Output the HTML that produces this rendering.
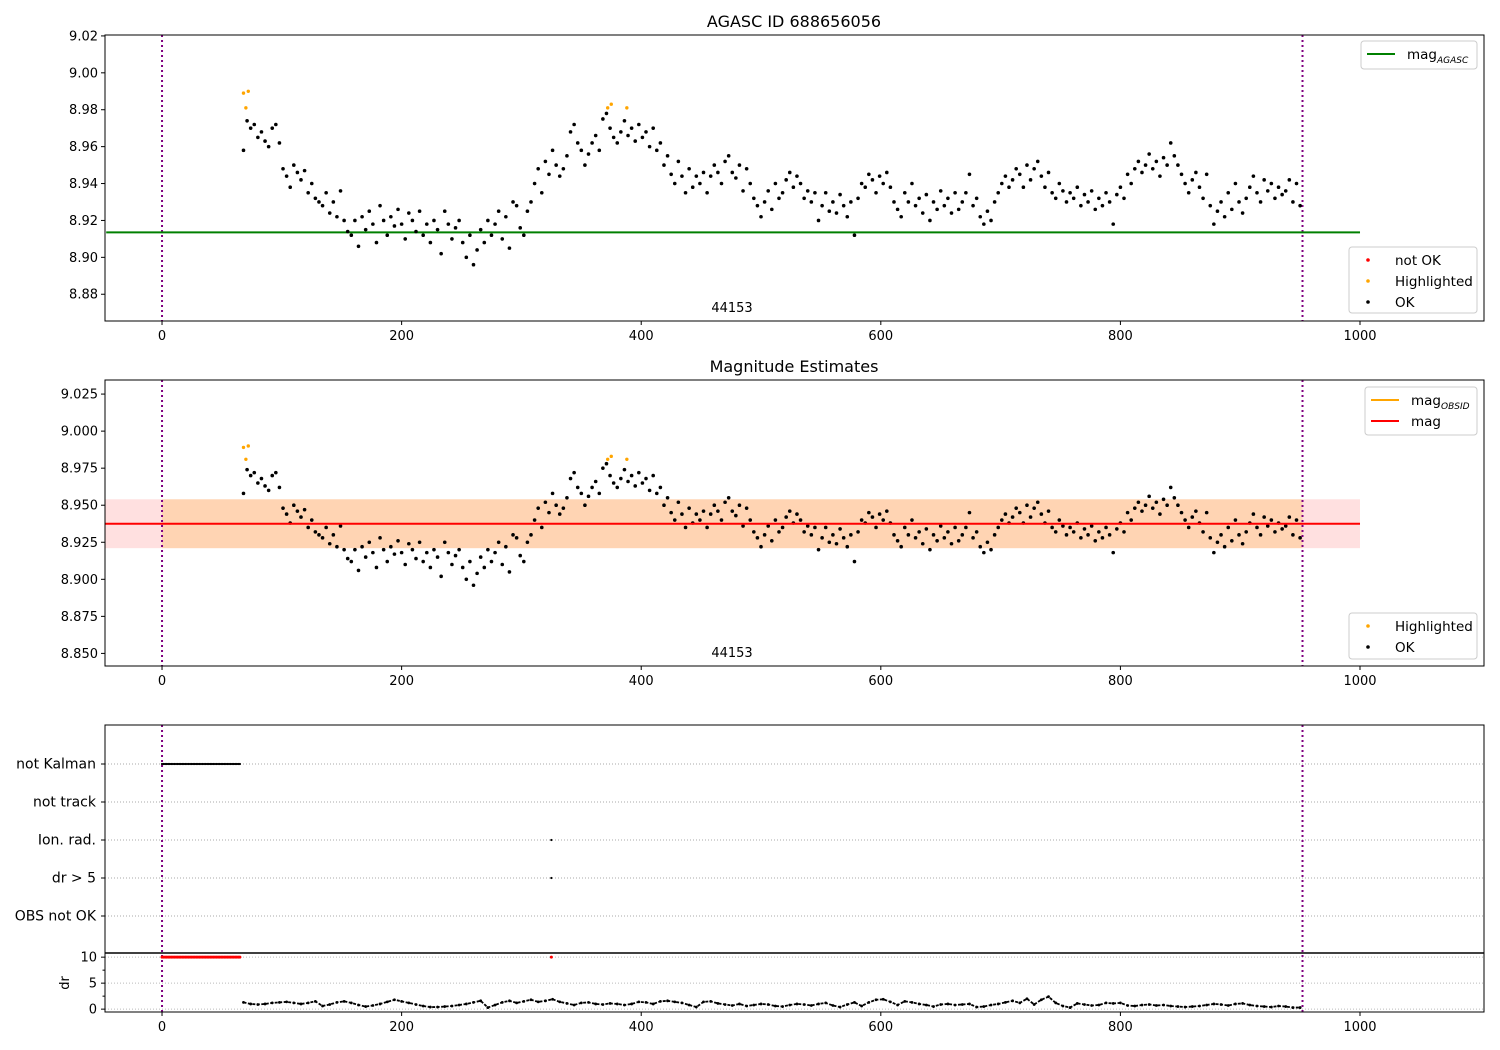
<!DOCTYPE html>
<html><head><meta charset="utf-8">
<style>
body{margin:0;background:#fff;}
svg{display:block;font-family:"DejaVu Sans","Liberation Sans",sans-serif;}
</style></head>
<body>
<svg id="chart" width="1500" height="1050" viewBox="0 0 1500 1050"></svg>
<script>
// ---- data ----
const magStart = 68, magStep = 3;
const magValues = [
8.958,8.974,8.970,8.972,8.965,8.968,8.963,8.960,8.970,8.972,
8.962,8.948,8.944,8.938,8.950,8.946,8.942,8.947,8.935,8.940,
8.932,8.930,8.928,8.935,8.924,8.930,8.922,8.936,8.920,8.914,
8.912,8.920,8.906,8.922,8.915,8.925,8.918,8.908,8.928,8.920,
8.912,8.922,8.917,8.926,8.918,8.910,8.924,8.920,8.914,8.925,
8.912,8.918,8.908,8.920,8.915,8.902,8.925,8.918,8.910,8.916,
8.920,8.908,8.900,8.912,8.896,8.904,8.915,8.908,8.920,8.912,
8.918,8.925,8.910,8.922,8.905,8.930,8.928,8.916,8.912,8.925,
8.930,8.940,8.948,8.935,8.952,8.945,8.958,8.950,8.944,8.948,
8.955,8.968,8.972,8.962,8.958,8.950,8.956,8.962,8.966,8.958,
8.975,8.978,8.970,8.965,8.962,8.968,8.974,8.966,8.970,8.963,
8.972,8.965,8.968,8.960,8.970,8.958,8.962,8.950,8.955,8.945,
8.940,8.952,8.944,8.935,8.948,8.938,8.944,8.940,8.946,8.935,
8.944,8.950,8.946,8.940,8.952,8.955,8.946,8.943,8.950,8.936,
8.948,8.940,8.932,8.928,8.922,8.930,8.936,8.926,8.940,8.932,
8.935,8.942,8.946,8.938,8.944,8.940,8.932,8.936,8.930,8.935,
8.920,8.928,8.935,8.925,8.930,8.924,8.934,8.928,8.922,8.930,
8.912,8.932,8.940,8.938,8.945,8.942,8.935,8.944,8.940,8.946,
8.938,8.930,8.926,8.922,8.935,8.930,8.940,8.928,8.932,8.924,
8.934,8.920,8.930,8.926,8.936,8.928,8.932,8.924,8.935,8.926,
8.930,8.935,8.945,8.928,8.932,8.922,8.918,8.925,8.920,8.930,
8.935,8.940,8.944,8.938,8.942,8.948,8.945,8.938,8.950,8.942,
8.948,8.952,8.944,8.938,8.946,8.935,8.932,8.940,8.936,8.930,
8.935,8.932,8.938,8.928,8.934,8.930,8.936,8.926,8.932,8.928,
8.935,8.930,8.918,8.934,8.938,8.932,8.945,8.940,8.948,8.952,
8.946,8.950,8.956,8.948,8.952,8.944,8.954,8.950,8.962,8.955,
8.950,8.945,8.940,8.935,8.942,8.946,8.938,8.932,8.945,8.928,
8.918,8.925,8.930,8.922,8.935,8.926,8.940,8.930,8.924,8.932,
8.938,8.944,8.935,8.930,8.942,8.936,8.940,8.932,8.938,8.934,
8.936,8.942,8.930,8.940,8.928];
const hiTimes = [68, 70, 72, 372, 375, 388];
const hiValues = [8.989, 8.981, 8.990, 8.981, 8.983, 8.981];
const magAgasc = 8.9135;
const magMean = 8.9375;
const magStd = 0.0165;
const obsStart = 0, obsEnd = 952;
const drStart = 68, drStep = 6;
const drValues = [
1.3,1.0,0.9,1.0,1.2,1.3,1.4,1.2,1.0,1.2,1.5,
0.6,0.9,1.3,1.5,1.2,0.8,0.5,0.7,1.0,1.4,1.8,1.5,
1.2,0.9,0.6,0.4,0.4,0.5,0.6,0.8,1.0,1.3,1.6,
0.3,0.8,1.3,1.6,1.2,1.5,1.8,1.4,1.6,1.9,1.4,
1.1,0.8,1.2,1.3,1.0,0.9,1.1,1.0,0.8,1.0,1.4,1.3,1.0,
1.5,1.6,1.4,1.2,0.8,0.4,1.4,1.5,1.1,0.9,0.7,1.0,
0.6,0.8,1.0,0.9,0.6,0.5,0.8,1.0,0.9,0.7,1.0,1.2,
0.7,0.4,0.9,1.3,0.6,1.3,1.8,1.9,1.4,0.8,
1.5,1.3,1.0,0.8,0.5,0.9,1.0,0.8,0.9,1.0,
0.4,0.5,0.8,1.0,1.3,1.6,1.2,2.0,0.9,1.8,2.4,
1.2,0.6,0.3,1.1,0.9,0.7,0.8,1.2,1.1,1.2,
0.7,0.6,0.8,0.9,0.7,0.8,0.6,0.5,0.4,
0.5,0.6,0.8,1.0,0.9,0.7,1.0,1.1,0.8,0.6,0.5,0.4,0.6,0.5,0.3,0.3];
const flagLabels = ["not Kalman","not track","Ion. rad.","dr > 5","OBS not OK"];
const notKalmanTimes = [];
for (let t = 0; t <= 66; t += 1.3) notKalmanTimes.push(t);
const ionTimes = [325];
const drBadTimes = [325];
const xTicks = [0,200,400,600,800,1000];
const y1Ticks = [8.88,8.90,8.92,8.94,8.96,8.98,9.00,9.02];
const y2Ticks = [8.850,8.875,8.900,8.925,8.950,8.975,9.000,9.025];
const drTicks = [0,5,10];

// ---- helpers ----
const svg = document.getElementById('chart');
const NS = 'http://www.w3.org/2000/svg';
function mk(tag, attrs, parent){
  const e = document.createElementNS(NS, tag);
  for (const k in attrs) e.setAttribute(k, attrs[k]);
  (parent||svg).appendChild(e); return e;
}
const X0 = 105, X1 = 1484, TMIN = -47.6, TMAX = 1103.5;
const xs = t => X0 + (t - TMIN) / (TMAX - TMIN) * (X1 - X0);
function yScale(top, bot, vmin, vmax){ return v => bot - (v - vmin)/(vmax - vmin)*(bot - top); }
const y1 = yScale(35, 321, 8.8655, 9.0205);
const y2 = yScale(380, 666, 8.8415, 9.0345);
const yDr = yScale(953, 1012, -0.55, 10.8);
const magTimes = magValues.map((v,i)=>magStart + i*magStep);

function xAxis(bot, name){
  const g = mk('g', {});  
  xTicks.forEach(t=>{
    mk('line',{x1:xs(t),x2:xs(t),y1:bot,y2:bot+4,stroke:'#000','stroke-width':1},g);
    const tx = mk('text',{x:xs(t),y:bot+19,'font-size':13,'text-anchor':'middle'},g); tx.textContent = t;
  });
}
function yAxis(scale, ticks, dec, name){
  const g = mk('g', {});  
  ticks.forEach(v=>{
    mk('line',{x1:X0-4,x2:X0,y1:scale(v),y2:scale(v),stroke:'#000'},g);
    const tx = mk('text',{x:X0-7,y:scale(v)+4.5,'font-size':13,'text-anchor':'end'},g); tx.textContent = v.toFixed(dec);
  });
}
function frame(top, bot, name){
  const r = mk('rect',{x:X0,y:top,width:X1-X0,height:bot-top,fill:'none',stroke:'#000','stroke-width':1});
   
}
function vlines(top, bot){
  [obsStart, obsEnd].forEach(t=>{
    const l = mk('line',{x1:xs(t),x2:xs(t),y1:top,y2:bot,stroke:'#800080','stroke-width':2,'stroke-dasharray':'2,3'});
     
  });
}
function scatter(times, vals, scale, color, r, name){
  const g = mk('g',{});  
  vals.forEach((v,i)=>{
    const c = mk('circle',{cx:xs(times[i]),cy:scale(v),r:r,fill:color},g);
     
  });
}
function legend(x,y,w,h,items,name){
  const g = mk('g',{});  
  mk('rect',{x:x,y:y,width:w,height:h,rx:3,fill:'#fff','fill-opacity':0.8,stroke:'#ccc'},g);
  items.forEach((it,i)=>{
    const cy = y+13+i*21;
    if (it.line) mk('line',{x1:x+6,x2:x+34,y1:cy,y2:cy,stroke:it.color,'stroke-width':2},g);
    else mk('circle',{cx:x+19,cy:cy,r:1.8,fill:it.color},g);
    const t = mk('text',{x:x+46,y:cy+5,'font-size':13.5},g);
     
    t.innerHTML = it.label;
  });
}
function title(txt, y, name){
  const t = mk('text',{x:794,y:y,'font-size':16,'text-anchor':'middle'});
   
  t.textContent = txt;
}

// ---- panel 1 ----
title('AGASC ID 688656056', 27, 'top-title');
vlines(35,321);
const ag = mk('line',{x1:xs(TMIN+1),x2:xs(1000),y1:y1(magAgasc),y2:y1(magAgasc),stroke:'#008000','stroke-width':2});
 
scatter(magTimes, magValues, y1, '#000', 1.8, 'ok-points-top');
scatter(hiTimes, hiValues, y1, 'orange', 1.7, 'highlighted-points-top');
frame(35,321,'top-plot-area'); xAxis(321,'top-x-axis'); yAxis(y1,y1Ticks,2,'top-y-axis');
let ob = mk('text',{x:732,y:312,'font-size':13,'text-anchor':'middle'}); ob.textContent='44153';
 
legend(1361,41,116,28,[{line:1,color:'green',label:'mag<tspan font-size="9" font-style="italic" dy="4">AGASC</tspan>'}],'top-legend-lines');
legend(1349,247,128,66,[{color:'red',label:'not OK'},{color:'orange',label:'Highlighted'},{color:'#000',label:'OK'}],'top-legend-points');

// ---- panel 2 ----
title('Magnitude Estimates', 372, 'middle-title');
const band1 = mk('rect',{x:xs(TMIN),y:y2(magMean+magStd),width:xs(1000)-xs(TMIN),height:y2(magMean-magStd)-y2(magMean+magStd),fill:'red','fill-opacity':0.12});
 
const band2 = mk('rect',{x:xs(obsStart),y:y2(magMean+magStd),width:xs(obsEnd)-xs(obsStart),height:y2(magMean-magStd)-y2(magMean+magStd),fill:'orange','fill-opacity':0.2});
 
vlines(380,666);
scatter(magTimes, magValues, y2, '#000', 1.8, 'ok-points-middle');
scatter(hiTimes, hiValues, y2, 'orange', 1.7, 'highlighted-points-middle');
const ml = mk('line',{x1:xs(TMIN),x2:xs(1000),y1:y2(magMean),y2:y2(magMean),stroke:'red','stroke-width':2});
 
frame(380,666,'middle-plot-area'); xAxis(666,'middle-x-axis'); yAxis(y2,y2Ticks,3,'middle-y-axis');
ob = mk('text',{x:732,y:657,'font-size':13,'text-anchor':'middle'}); ob.textContent='44153';
 
legend(1365,387,112,48,[{line:1,color:'orange',label:'mag<tspan font-size="9" font-style="italic" dy="4">OBSID</tspan>'},{line:1,color:'red',label:'mag'}],'middle-legend-lines');
legend(1349,613,128,46,[{color:'orange',label:'Highlighted'},{color:'#000',label:'OK'}],'middle-legend-points');

// ---- panel 3 flags ----
const flagY = i => 764 + i*38;
flagLabels.forEach((lab,i)=>{
  const gl = mk('line',{x1:X0,x2:X1,y1:flagY(i),y2:flagY(i),stroke:'#aaa','stroke-width':1,'stroke-dasharray':'1,2'});
   
  mk('line',{x1:X0-4,x2:X0,y1:flagY(i),y2:flagY(i),stroke:'#000'});
  const t = mk('text',{x:X0-9,y:flagY(i)+4.5,'font-size':14,'text-anchor':'end'}); t.textContent = lab;
   
});
[yDr(0),yDr(5),yDr(10)].forEach(yy=>mk('line',{x1:X0,x2:X1,y1:yy,y2:yy,stroke:'#bbb','stroke-dasharray':'1,2'}));
vlines(725,1012);
scatter(notKalmanTimes, notKalmanTimes.map(()=>0), v=>flagY(0), '#000', 1.1, 'not-kalman-flags');
scatter(ionTimes, ionTimes.map(()=>0), v=>flagY(2), '#000', 1.1, 'ion-rad-flags');
scatter(drBadTimes, drBadTimes.map(()=>0), v=>flagY(3), '#000', 1.1, 'dr-flags');
frame(725,953,'flags-plot-area');
// dr panel
const drTimes = drValues.map((v,i)=>drStart + i*drStep);
const drLine = mk('polyline',{points:drValues.map((v,i)=>xs(drTimes[i])+','+yDr(v)).join(' '),fill:'none',stroke:'#000','stroke-width':1.8,'stroke-dasharray':'3,1.5'});
 
scatter(drTimes, drValues, yDr, '#000', 1.4, 'dr-points');
scatter(notKalmanTimes, notKalmanTimes.map(()=>10), yDr, 'red', 1.5, 'dr-clipped-points');
scatter(drBadTimes, drBadTimes.map(()=>10), yDr, 'red', 1.5, 'dr-clipped-points-2');
mk('rect',{x:X0,y:953,width:X1-X0,height:59,fill:'none',stroke:'#000'});
mk('line',{x1:X0,x2:X1,y1:953,y2:953,stroke:'#000','stroke-width':1.5});
drTicks.forEach(v=>{
  mk('line',{x1:X0-4,x2:X0,y1:yDr(v),y2:yDr(v),stroke:'#000'});
  const t = mk('text',{x:X0-8,y:yDr(v)+4.5,'font-size':13,'text-anchor':'end'}); t.textContent=v;
});
[2.5,7.5].forEach(v=>mk('line',{x1:X0-2.5,x2:X0,y1:yDr(v),y2:yDr(v),stroke:'#000'}));
const dl = mk('text',{x:0,y:0,'font-size':13,'text-anchor':'middle',transform:'translate(69,983) rotate(-90)'}); dl.textContent='dr';
 
xAxis(1012,'bottom-x-axis');
</script>
</body></html>
